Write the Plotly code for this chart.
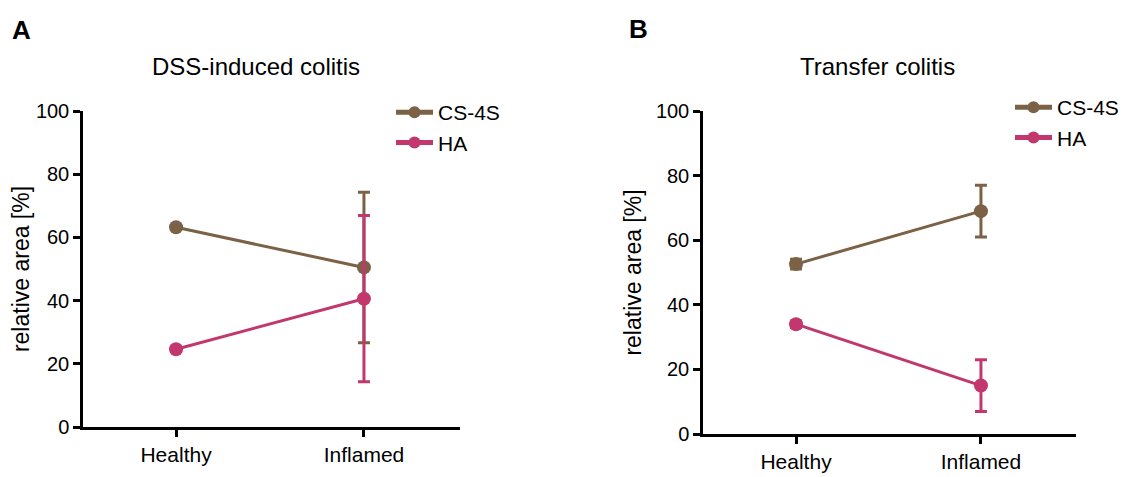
import plotly.graph_objects as go

categories = ["Healthy", "Inflamed"]
cat_pos = [0, 1]

# Panel A: DSS-induced colitis
a_cs4s = [63.2, 50.5]
a_cs4s_err = [0.6, 23.8]
a_ha = [24.6, 40.6]
a_ha_err = [0.6, 26.3]

# Panel B: Transfer colitis
b_cs4s = [52.6, 69.0]
b_cs4s_err = [1.5, 8.0]
b_ha = [34.0, 15.0]
b_ha_err = [1.0, 8.0]

y_ticks = [0, 20, 40, 60, 80, 100]

BROWN = "#7B6246"
PINK = "#C2386E"
FONT = "Liberation Sans, Arial, sans-serif"

# page body has an 8px default margin; the figure is sized to the visible window
OFF = 8
W, H = 1127 - OFF, 477 - OFF

def px(x):
    return (x - OFF) / W

def py(y):
    return 1 - (y - OFF) / H

fig = go.Figure()

def add_series(y, err, color, name, xa, ya, legend):
    fig.add_trace(go.Scatter(
        x=cat_pos, y=y, name=name, mode="lines+markers",
        line=dict(color=color, width=3),
        marker=dict(color=color, size=14),
        error_y=dict(type="data", array=err, color=color, thickness=3, width=6, visible=True),
        xaxis=xa, yaxis=ya, legend=legend,
        cliponaxis=False,
    ))

add_series(a_cs4s, a_cs4s_err, BROWN, "CS-4S", "x", "y", "legend")
add_series(a_ha, a_ha_err, PINK, "HA", "x", "y", "legend")
add_series(b_cs4s, b_cs4s_err, BROWN, "CS-4S", "x2", "y2", "legend2")
add_series(b_ha, b_ha_err, PINK, "HA", "x2", "y2", "legend2")

axis_common = dict(
    showline=True, linecolor="black", linewidth=2.5,
    ticks="outside", ticklen=7, tickwidth=2.5, tickcolor="black",
    showgrid=False, zeroline=False, automargin=False,
)

xcommon = dict(axis_common, tickmode="array", tickvals=cat_pos, ticktext=categories,
               tickfont=dict(family=FONT, size=21, color="black"))
ycommon = dict(axis_common, tickmode="array", tickvals=y_ticks, range=[0, 100],
               tickfont=dict(family=FONT, size=20, color="black"),
               title=dict(text="relative area [%]", font=dict(family=FONT, size=23, color="black"), standoff=8))

legend_common = dict(xanchor="left", yanchor="top", bgcolor="rgba(0,0,0,0)",
                     font=dict(family=FONT, size=21, color="black"), tracegroupgap=0,
                     itemsizing="constant", itemwidth=37)

fig.update_layout(
    width=W, height=H,
    margin=dict(l=0, r=0, t=0, b=0, autoexpand=False),
    paper_bgcolor="white", plot_bgcolor="white",
    font=dict(family=FONT, color="black"),
    xaxis=dict(xcommon, domain=[px(83), px(460)], anchor="y", range=[-0.495, 1.511]),
    yaxis=dict(ycommon, domain=[py(427), py(111)], anchor="x"),
    xaxis2=dict(xcommon, domain=[px(703), px(1076)], anchor="y2", range=[-0.503, 1.514]),
    yaxis2=dict(ycommon, domain=[py(434), py(111)], anchor="x2"),
    legend=dict(legend_common, x=px(391), y=py(92)),
    legend2=dict(legend_common, x=px(1010), y=py(87)),
)

texts = [
    ("<b>A</b>", 21, 30, 26),
    ("<b>B</b>", 638, 29, 26),
    ("DSS-induced colitis", 256, 67, 24),
    ("Transfer colitis", 877, 67, 24),
]
for t, x, y, s in texts:
    fig.add_annotation(text=t, x=px(x), y=py(y), xref="paper", yref="paper", showarrow=False,
                       xanchor="center", yanchor="middle",
                       font=dict(family=FONT, size=s, color="black"))

fig.write_html("out.html")
